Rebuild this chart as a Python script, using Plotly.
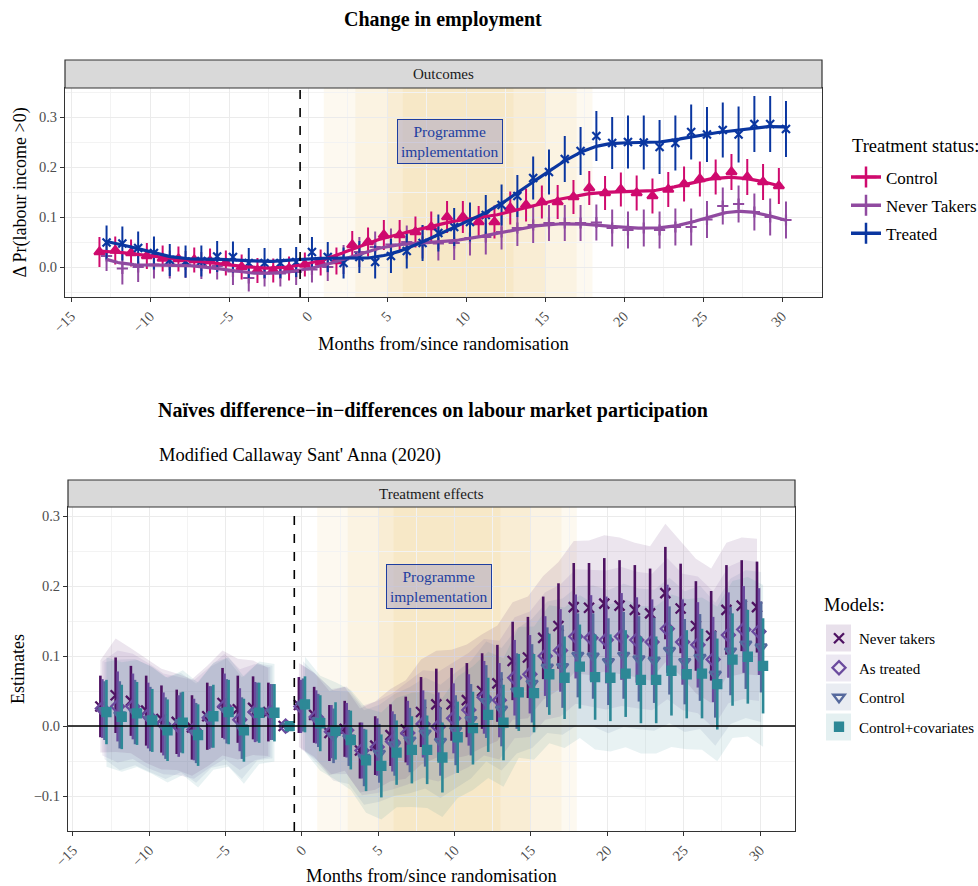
import numpy as np
import plotly.graph_objects as go

FONT = "Liberation Serif"
W, H = 978, 886

months = list(range(-13, 31))

# ---------------- Top panel: outcomes ----------------
ctrl = [0.030, 0.033, 0.028, 0.022, 0.017, 0.016, 0.014, 0.012, 0.008, 0.000, -0.007, -0.007, -0.003,
        0.005, 0.009, 0.012, 0.044, 0.050, 0.064, 0.064, 0.070, 0.080, 0.100, 0.100, 0.090, 0.090, 0.118,
        0.124, 0.130, 0.130, 0.140, 0.158, 0.148, 0.155, 0.148, 0.142, 0.155, 0.166, 0.176, 0.180, 0.190,
        0.180, 0.170, 0.162]
ctrl_err = [0.030, 0.028, 0.027, 0.026, 0.026, 0.025, 0.025, 0.025, 0.025, 0.025, 0.025, 0.024, 0.024,
            0.024, 0.026, 0.027, 0.028, 0.029, 0.030, 0.030, 0.031, 0.031, 0.032, 0.032, 0.032, 0.033,
            0.033, 0.033, 0.033, 0.034, 0.034, 0.034, 0.034, 0.034, 0.035, 0.035, 0.035, 0.035, 0.035,
            0.035, 0.036, 0.036, 0.036, 0.036]
never = [0.022, -0.003, 0.000, 0.005, 0.005, 0.005, 0.003, 0.002, -0.009, -0.022, -0.013, -0.013, -0.010,
         -0.005, 0.000, 0.015, 0.030, 0.040, 0.045, 0.050, 0.050, 0.047, 0.048, 0.058, 0.060, 0.070, 0.078,
         0.084, 0.088, 0.088, 0.088, 0.089, 0.078, 0.074, 0.078, 0.074, 0.080, 0.080, 0.095, 0.122, 0.126,
         0.110, 0.100, 0.094]
never_err = [0.030, 0.032, 0.030, 0.028, 0.028, 0.027, 0.027, 0.027, 0.027, 0.027, 0.026, 0.026, 0.026,
             0.026, 0.028, 0.029, 0.030, 0.031, 0.032, 0.033, 0.033, 0.034, 0.034, 0.035, 0.035, 0.035,
             0.036, 0.036, 0.036, 0.036, 0.036, 0.036, 0.037, 0.037, 0.037, 0.037, 0.037, 0.037, 0.037,
             0.037, 0.037, 0.037, 0.037, 0.037]
treated = [0.049, 0.047, 0.038, 0.028, 0.014, 0.011, 0.012, 0.021, 0.020, 0.008, 0.008, 0.008, 0.010,
           0.030, 0.020, 0.008, 0.020, 0.010, 0.022, 0.032, 0.048, 0.068, 0.080, 0.090, 0.104, 0.124, 0.142,
           0.178, 0.190, 0.216, 0.232, 0.262, 0.248, 0.250, 0.249, 0.240, 0.248, 0.270, 0.265, 0.274, 0.265,
           0.286, 0.286, 0.276]
treated_err = [0.034, 0.034, 0.033, 0.033, 0.032, 0.032, 0.031, 0.031, 0.031, 0.030, 0.030, 0.030, 0.030,
               0.030, 0.030, 0.031, 0.032, 0.033, 0.034, 0.035, 0.036, 0.037, 0.038, 0.039, 0.040, 0.041,
               0.042, 0.043, 0.045, 0.046, 0.048, 0.050, 0.052, 0.053, 0.054, 0.054, 0.055, 0.055, 0.055,
               0.055, 0.056, 0.056, 0.056, 0.056]

top_series = [
    ("Control", ctrl, ctrl_err, "#CF0A6E", "triangle-up", -0.2),
    ("Never Takers", never, never_err, "#904AA0", "cross-thin-open", 0.25),
    ("Treated", treated, treated_err, "#0A36A0", "x-thin-open", 0.25),
]

# ---------------- Bottom panel: treatment effects ----------------
nt_est = [0.028, 0.044, 0.036, 0.022, 0.010, 0.006, -0.002, 0.014, 0.033, 0.024, 0.026, 0.020, 0.0,
          0.030, 0.016, -0.010, -0.004, -0.035, -0.028, -0.013, -0.005, 0.020, 0.031, 0.031, 0.037, 0.050,
          0.061, 0.093, 0.098, 0.126, 0.143, 0.170, 0.169, 0.175, 0.172, 0.166, 0.161, 0.190, 0.168, 0.143,
          0.129, 0.166, 0.172, 0.170]
nt_err = [0.044, 0.054, 0.050, 0.050, 0.048, 0.046, 0.046, 0.048, 0.050, 0.048, 0.045, 0.042, 0.0,
          0.040, 0.040, 0.040, 0.040, 0.040, 0.042, 0.044, 0.047, 0.050, 0.051, 0.052, 0.053, 0.054, 0.055,
          0.056, 0.058, 0.059, 0.061, 0.063, 0.064, 0.065, 0.065, 0.064, 0.064, 0.066, 0.064, 0.064, 0.064,
          0.064, 0.065, 0.065]
at_est = [0.025, 0.028, 0.028, 0.015, 0.003, 0.000, -0.005, 0.012, 0.028, 0.009, 0.020, 0.020, 0.0,
          0.028, 0.013, -0.008, -0.006, -0.035, -0.030, -0.022, -0.010, 0.003, -0.001, 0.011, 0.023, 0.041,
          0.037, 0.069, 0.074, 0.100, 0.108, 0.128, 0.126, 0.123, 0.128, 0.123, 0.120, 0.139, 0.120, 0.116,
          0.095, 0.130, 0.138, 0.135]
at_err = [0.042, 0.050, 0.047, 0.047, 0.045, 0.044, 0.044, 0.045, 0.047, 0.045, 0.043, 0.040, 0.0,
          0.038, 0.038, 0.038, 0.039, 0.040, 0.041, 0.043, 0.046, 0.048, 0.049, 0.050, 0.051, 0.052, 0.053,
          0.054, 0.056, 0.057, 0.059, 0.060, 0.061, 0.062, 0.062, 0.061, 0.061, 0.063, 0.061, 0.061, 0.061,
          0.061, 0.062, 0.062]
c_est = [0.022, 0.016, 0.020, 0.010, -0.003, 0.005, -0.010, 0.013, 0.021, -0.003, 0.020, 0.020, 0.0,
         0.030, 0.008, -0.014, -0.017, -0.045, -0.039, -0.027, -0.020, -0.010, -0.022, -0.006, 0.009, 0.035,
         0.024, 0.050, 0.061, 0.084, 0.085, 0.101, 0.100, 0.092, 0.101, 0.096, 0.094, 0.108, 0.092, 0.098,
         0.074, 0.107, 0.117, 0.113]
c_err = [0.042, 0.048, 0.046, 0.046, 0.044, 0.043, 0.043, 0.044, 0.046, 0.044, 0.042, 0.040, 0.0,
         0.038, 0.038, 0.039, 0.040, 0.041, 0.042, 0.044, 0.046, 0.048, 0.049, 0.050, 0.051, 0.052, 0.053,
         0.054, 0.056, 0.057, 0.059, 0.060, 0.061, 0.062, 0.062, 0.061, 0.061, 0.063, 0.061, 0.062, 0.062,
         0.063, 0.064, 0.065]
cc_est = [0.020, 0.013, 0.018, 0.008, -0.006, 0.005, -0.013, 0.014, 0.020, -0.006, 0.019, 0.019, 0.0,
          0.031, 0.004, -0.007, -0.020, -0.049, -0.057, -0.038, -0.034, -0.034, -0.045, -0.016, -0.003, 0.016,
          0.005, 0.048, 0.047, 0.074, 0.069, 0.085, 0.070, 0.069, 0.075, 0.066, 0.066, 0.079, 0.074, 0.075,
          0.060, 0.095, 0.099, 0.086]
cc_err = [0.046, 0.046, 0.045, 0.045, 0.044, 0.044, 0.044, 0.045, 0.046, 0.045, 0.043, 0.041, 0.0,
          0.040, 0.040, 0.041, 0.042, 0.044, 0.045, 0.046, 0.048, 0.049, 0.050, 0.051, 0.052, 0.053, 0.054,
          0.055, 0.056, 0.058, 0.059, 0.060, 0.061, 0.062, 0.062, 0.062, 0.062, 0.064, 0.063, 0.064, 0.065,
          0.066, 0.067, 0.068]
# critical value ratio of the uniform confidence band to the pointwise bar
band_crit = {"Never takers": 1.5, "As treated": 1.6, "Control": 1.65, "Control+covariates": 1.7}

bottom_series = [
    ("Never takers", nt_est, nt_err, "#4E1262", "x-thin-open", -0.2, 10),
    ("As treated", at_est, at_err, "#6B4A9E", "diamond-open", -0.07, 10),
    ("Control", c_est, c_err, "#56699D", "triangle-down-open", 0.07, 10),
    ("Control+covariates", cc_est, cc_err, "#2D8896", "square", 0.2, 8),
]
ref_month = -1

# programme implementation windows (months)
impl_windows = [(1, 18), (3, 17), (5, 15), (6, 13)]
label_pos_top = (9, 0.25)
label_pos_bot = (9, 0.20)


def rgba(hexc, a):
    hexc = hexc.lstrip("#")
    r, g, b = int(hexc[0:2], 16), int(hexc[2:4], 16), int(hexc[4:6], 16)
    return f"rgba({r},{g},{b},{a})"


def loess_like(x, y, grid, bw=1.6):
    x = np.asarray(x, float)
    y = np.asarray(y, float)
    out = []
    for g in grid:
        w = np.exp(-0.5 * ((x - g) / bw) ** 2)
        X = np.vstack([np.ones_like(x), x - g]).T
        A = X.T @ (X * w[:, None])
        b = X.T @ (w * y)
        out.append(np.linalg.solve(A, b)[0])
    return np.array(out)


fig = go.Figure()

# top panel traces
for name, vals, err, col, sym, off in top_series:
    xs = [m + off for m in months]
    fig.add_trace(go.Scatter(
        x=xs, y=vals, mode="markers", xaxis="x", yaxis="y", showlegend=False,
        marker=dict(symbol=sym, size=9 if sym == "triangle-up" else 8, color=col,
                    line=dict(color=col, width=2.2)),
        error_y=dict(type="data", array=err, visible=True, color=col, thickness=2, width=0),
        hoverinfo="skip"))
for name, vals, err, col, sym, off in top_series:
    xs = [m + off for m in months]
    grid = np.linspace(min(xs), max(xs), 300)
    fig.add_trace(go.Scatter(
        x=grid, y=loess_like(xs, vals, grid), mode="lines", xaxis="x", yaxis="y",
        showlegend=False, line=dict(color=col, width=3.2), hoverinfo="skip"))
for name, vals, err, col, sym, off in top_series:
    fig.add_trace(go.Scatter(
        x=[None], y=[None], mode="lines+markers", name=name, legend="legend", legendgroup="t" + name,
        line=dict(color=col, width=3.5),
        marker=dict(symbol="cross-thin-open", size=15, color=col, line=dict(color=col, width=2.5))))

# bottom panel ribbons
for name, est, err, col, sym, off, sz in bottom_series:
    k = band_crit[name]
    for seg in (lambda m: m < ref_month, lambda m: m > ref_month):
        idx = [i for i, m in enumerate(months) if seg(m)]
        xs = [months[i] + off for i in idx]
        up = [est[i] + k * err[i] for i in idx]
        lo = [est[i] - k * err[i] for i in idx]
        fig.add_trace(go.Scatter(
            x=xs + xs[::-1], y=up + lo[::-1], fill="toself", mode="lines",
            line=dict(width=0), fillcolor=rgba(col, 0.11), xaxis="x2", yaxis="y2",
            showlegend=False, hoverinfo="skip"))
# bottom panel bars + points
for name, est, err, col, sym, off, sz in bottom_series:
    xs = [m + off for m in months]
    fig.add_trace(go.Scatter(
        x=xs, y=est, mode="markers", name=name, xaxis="x2", yaxis="y2", legend="legend2",
        legendgroup="b" + name,
        marker=dict(symbol=sym, size=sz, color=col, line=dict(color=col, width=2.3)),
        error_y=dict(type="data", array=err, visible=True, color=col, thickness=2.6, width=0),
        hoverinfo="skip"))

# ---------------- layout ----------------
def px_x(p):
    return p / W


def px_y(p):
    return 1 - p / H


axis_common = dict(
    showline=True, mirror=True, linecolor="#333333", linewidth=1.2,
    ticks="outside", ticklen=4, tickcolor="#333333", tickwidth=1,
    showgrid=True, gridcolor="#EBEBEB", gridwidth=1.1,
    tickfont=dict(family=FONT, size=14.5, color="#4D4D4D"),
    zeroline=False, automargin=False,
)

top_x = [px_x(65), px_x(822)]
top_y = [px_y(297), px_y(88)]
bot_x = [px_x(68), px_x(795)]
bot_y = [px_y(831), px_y(507)]

fig.update_layout(
    template="none",
    width=W, height=H, margin=dict(l=0, r=0, t=0, b=0, autoexpand=False),
    paper_bgcolor="white", plot_bgcolor="white",
    font=dict(family=FONT, color="black"),
    xaxis=dict(domain=top_x, anchor="y", range=[-15.38, 32.53], tickvals=list(range(-15, 31, 5)),
               tickangle=-45, minor=dict(dtick=2.5, tick0=0, showgrid=True, gridcolor="#F3F3F3", gridwidth=0.6),
               **axis_common),
    yaxis=dict(domain=top_y, anchor="x", range=[-0.06, 0.358], tickvals=[0.0, 0.1, 0.2, 0.3],
               tickformat=".1f",
               minor=dict(dtick=0.05, tick0=0, showgrid=True, gridcolor="#F3F3F3", gridwidth=0.6),
               **axis_common),
    xaxis2=dict(domain=bot_x, anchor="y2", range=[-15.32, 32.29], tickvals=list(range(-15, 31, 5)),
                tickangle=-45, minor=dict(dtick=2.5, tick0=0, showgrid=True, gridcolor="#F3F3F3", gridwidth=0.6),
                **axis_common),
    yaxis2=dict(domain=bot_y, anchor="x2", range=[-0.15, 0.313], tickvals=[-0.1, 0.0, 0.1, 0.2, 0.3],
                tickformat=".1f",
                minor=dict(dtick=0.05, tick0=0, showgrid=True, gridcolor="#F3F3F3", gridwidth=0.6),
                **axis_common),
    legend=dict(x=px_x(846), y=px_y(159.5), xanchor="left", yanchor="top", bgcolor="rgba(0,0,0,0)",
                font=dict(family=FONT, size=17), tracegroupgap=3.0, itemwidth=30),
    legend2=dict(x=px_x(819), y=px_y(622), xanchor="left", yanchor="top", bgcolor="rgba(0,0,0,0)",
                 font=dict(family=FONT, size=15), tracegroupgap=7, itemwidth=30),
)

shapes = []
for x0, x1 in impl_windows:
    for xr, yr in (("x", "y domain"), ("x2", "y2 domain")):
        shapes.append(dict(type="rect", xref=xr, yref=yr, x0=x0, x1=x1, y0=0, y1=1,
                           fillcolor="rgba(218,165,32,0.066)", line=dict(width=0), layer="below"))
# reference line before randomisation
for xr, yr in (("x", "y domain"), ("x2", "y2 domain")):
    shapes.append(dict(type="line", xref=xr, yref=yr, x0=-0.5, x1=-0.5, y0=0, y1=1,
                       line=dict(color="black", width=1.6, dash="dash")))
shapes.append(dict(type="line", xref="x2 domain", yref="y2", x0=0, x1=1, y0=0, y1=0,
                   line=dict(color="black", width=1.6)))
# facet strips
shapes.append(dict(type="rect", xref="paper", yref="paper", x0=top_x[0], x1=top_x[1],
                   y0=px_y(88), y1=px_y(60), fillcolor="#D9D9D9", line=dict(color="#333333", width=1.2)))
shapes.append(dict(type="rect", xref="paper", yref="paper", x0=bot_x[0], x1=bot_x[1],
                   y0=px_y(507), y1=px_y(480), fillcolor="#D9D9D9", line=dict(color="#333333", width=1.2)))
# legend key backgrounds (models legend)
key_centres = [638, 668, 697, 727]
for (name, est, err, col, sym, off, sz), yc in zip(bottom_series, key_centres):
    shapes.append(dict(type="rect", xref="paper", yref="paper", x0=px_x(826), x1=px_x(851),
                       y0=px_y(yc + 13.5), y1=px_y(yc - 13.5), fillcolor=rgba(col, 0.13),
                       line=dict(width=0), layer="below"))
fig.update_layout(shapes=shapes)

ann = []
ann.append(dict(text="<b>Change in employment</b>", x=px_x(443), y=px_y(20), xref="paper", yref="paper",
                showarrow=False, font=dict(family=FONT, size=20), xanchor="center", yanchor="middle"))
ann.append(dict(text="Outcomes", x=(top_x[0] + top_x[1]) / 2, y=px_y(74), xref="paper", yref="paper",
                showarrow=False, font=dict(family=FONT, size=15, color="#1A1A1A"), yanchor="middle"))
ann.append(dict(text="Treatment effects", x=(bot_x[0] + bot_x[1]) / 2, y=px_y(493.5), xref="paper",
                yref="paper", showarrow=False, font=dict(family=FONT, size=15, color="#1A1A1A"),
                yanchor="middle"))
ann.append(dict(text="Months from/since randomisation", x=(top_x[0] + top_x[1]) / 2, y=px_y(344),
                xref="paper", yref="paper", showarrow=False, font=dict(family=FONT, size=18.5),
                yanchor="middle"))
ann.append(dict(text="Months from/since randomisation", x=(bot_x[0] + bot_x[1]) / 2, y=px_y(876),
                xref="paper", yref="paper", showarrow=False, font=dict(family=FONT, size=18.5),
                yanchor="middle"))
ann.append(dict(text="Δ Pr(labour income >0)", x=px_x(20), y=(top_y[0] + top_y[1]) / 2, xref="paper",
                yref="paper", showarrow=False, textangle=-90, font=dict(family=FONT, size=18),
                xanchor="center", yanchor="middle"))
ann.append(dict(text="Estimates", x=px_x(18), y=(bot_y[0] + bot_y[1]) / 2, xref="paper",
                yref="paper", showarrow=False, textangle=-90, font=dict(family=FONT, size=18),
                xanchor="center", yanchor="middle"))
ann.append(dict(text="<b>Naïves difference−in−differences on labour market participation</b>",
                x=px_x(156), y=px_y(410), xref="paper", yref="paper", showarrow=False,
                font=dict(family=FONT, size=20), xanchor="left", yanchor="middle"))
ann.append(dict(text="Modified Callaway Sant' Anna (2020)", x=px_x(157), y=px_y(455), xref="paper",
                yref="paper", showarrow=False, font=dict(family=FONT, size=18.5), xanchor="left",
                yanchor="middle"))
ann.append(dict(text="Treatment status:", x=px_x(850), y=px_y(146), xref="paper", yref="paper",
                showarrow=False, font=dict(family=FONT, size=18.5), xanchor="left", yanchor="middle"))
ann.append(dict(text="Models:", x=px_x(822), y=px_y(605), xref="paper", yref="paper",
                showarrow=False, font=dict(family=FONT, size=18.5), xanchor="left", yanchor="middle"))
for (lx, ly), xr, yr in ((label_pos_top, "x", "y"), (label_pos_bot, "x2", "y2")):
    ann.append(dict(text="Programme<br>implementation", x=lx, y=ly, xref=xr, yref=yr, showarrow=False,
                    font=dict(family=FONT, size=15.5, color="#1E3EA0"), bgcolor="rgba(175,168,195,0.55)",
                    bordercolor="#1E3EA0", borderwidth=1, borderpad=3))
fig.update_layout(annotations=ann)

fig.write_html("out.html", config={"displayModeBar": False},
               post_script="document.body.style.margin='0px';")
